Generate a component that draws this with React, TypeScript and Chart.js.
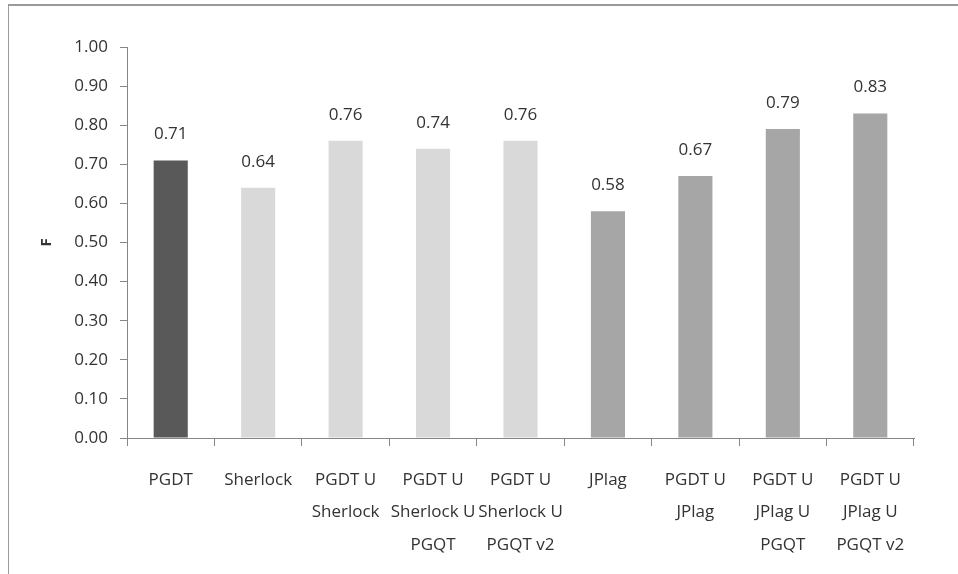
import React, { useEffect, useRef } from "react";
import { Chart, registerables } from "chart.js";

Chart.register(...registerables);

const categories: string[][] = [
  ["PGDT"],
  ["Sherlock"],
  ["PGDT U", "Sherlock"],
  ["PGDT U", "Sherlock U", "PGQT"],
  ["PGDT U", "Sherlock U", "PGQT v2"],
  ["JPlag"],
  ["PGDT U", "JPlag"],
  ["PGDT U", "JPlag U", "PGQT"],
  ["PGDT U", "JPlag U", "PGQT v2"],
];
const fValues: number[] = [0.71, 0.64, 0.76, 0.74, 0.76, 0.58, 0.67, 0.79, 0.83];
const barColors: string[] = [
  "#595959",
  "#d9d9d9",
  "#d9d9d9",
  "#d9d9d9",
  "#d9d9d9",
  "#a6a6a6",
  "#a6a6a6",
  "#a6a6a6",
  "#a6a6a6",
];
const yMin = 0;
const yMax = 1;
const yStep = 0.1;
const yTitle = "F";

const FONT = "'Open Sans', 'Noto Sans', sans-serif";
const TEXT = "#333333";
const AXIS = "#868686";

const valueLabels = {
  id: "valueLabels",
  afterDatasetsDraw(chart: any) {
    const ctx = chart.ctx;
    const meta = chart.getDatasetMeta(0);
    ctx.save();
    ctx.font = `17px ${FONT}`;
    ctx.fillStyle = TEXT;
    ctx.textAlign = "center";
    ctx.textBaseline = "middle";
    meta.data.forEach((bar: any, i: number) => {
      const v = chart.data.datasets[0].data[i] as number;
      ctx.fillText(v.toFixed(2), bar.x, bar.y - 26);
    });
    ctx.restore();
  },
};

export default function App() {
  const ref = useRef<HTMLCanvasElement | null>(null);
  useEffect(() => {
    if (!ref.current) return;
    const chart = new Chart(ref.current, {
      type: "bar",
      data: {
        labels: categories,
        datasets: [
          {
            data: fValues,
            backgroundColor: barColors,
            borderWidth: 0,
            barPercentage: 0.39,
            categoryPercentage: 1,
          },
        ],
      },
      options: {
        animation: false,
        responsive: false,
        maintainAspectRatio: false,
        layout: { padding: { left: 0, top: 47, right: 44, bottom: 0 } },
        plugins: { legend: { display: false }, tooltip: { enabled: false } },
        scales: {
          x: {
            grid: {
              display: true,
              drawOnChartArea: false,
              drawTicks: true,
              tickLength: 8,
              color: AXIS,
              offset: true,
            },
            border: { display: true, color: AXIS, width: 1 },
            ticks: {
              color: TEXT,
              padding: 18,
              maxRotation: 0,
              autoSkip: false,
              font: { family: FONT, size: 17, lineHeight: 1.9 },
            },
            afterFit: (scale: any) => {
              scale.height = 136;
            },
          },
          y: {
            min: yMin,
            max: yMax,
            grid: {
              display: true,
              drawOnChartArea: false,
              drawTicks: true,
              tickLength: 7,
              color: AXIS,
            },
            border: { display: true, color: AXIS, width: 1 },
            ticks: {
              stepSize: yStep,
              color: TEXT,
              padding: 12,
              font: { family: FONT, size: 17 },
              callback: (v: any) => Number(v).toFixed(2),
            },
            title: {
              display: true,
              text: yTitle,
              color: TEXT,
              font: { family: FONT, size: 15, weight: "bold" },
              padding: { top: 38, bottom: 0 },
            },
            afterFit: (scale: any) => {
              scale.width = 127;
            },
          },
        },
      },
      plugins: [valueLabels],
    });
    return () => chart.destroy();
  }, []);

  return (
    <div
      style={{
        position: "absolute",
        left: 0,
        top: 0,
        width: 958,
        height: 574,
        overflow: "hidden",
        background: "#ffffff",
      }}
    >
      <div
        style={{
          position: "absolute",
          left: 8,
          top: 4,
          width: 1200,
          height: 1200,
          borderTop: "2px solid #9a9a9a",
          borderLeft: "1px solid #9a9a9a",
        }}
      />
      <canvas
        ref={ref}
        width={958}
        height={574}
        style={{ position: "absolute", left: 0, top: 0, width: 958, height: 574 }}
      />
    </div>
  );
}
